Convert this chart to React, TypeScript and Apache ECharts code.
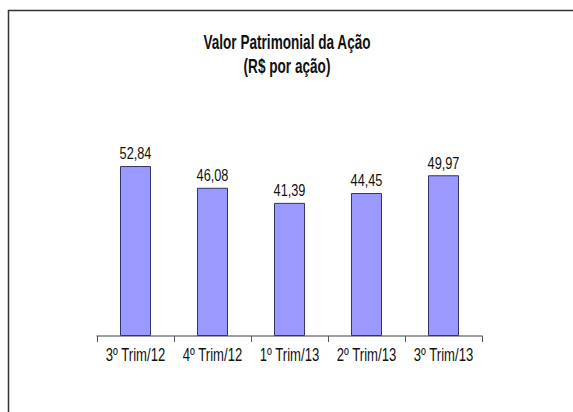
import React, { useEffect, useRef } from "react";
import * as echarts from "echarts";

const categories = ["3º Trim/12", "4º Trim/12", "1º Trim/13", "2º Trim/13", "3º Trim/13"];
const values = [52.84, 46.08, 41.39, 44.45, 49.97];
const titleLines = ["Valor Patrimonial da Ação", "(R$ por ação)"];

const FONT = "'Liberation Sans', Arial, sans-serif";
const fmt = (v: number) => v.toFixed(2).replace(".", ",");

export default function App() {
  const ref = useRef<HTMLDivElement>(null);
  useEffect(() => {
    if (!ref.current) return;
    const chart = echarts.init(ref.current, undefined, { renderer: "svg" });
    const titleText = (text: string, y: number) => ({
      type: "text",
      x: 287,
      y,
      scaleX: 0.68,
      style: {
        text,
        fontFamily: FONT,
        fontSize: 20,
        fontWeight: "bold",
        fill: "#111111",
        textAlign: "center",
        textVerticalAlign: "middle",
      },
    });
    chart.setOption({
      animation: false,
      backgroundColor: "#ffffff",
      graphic: [
        { type: "line", shape: { x1: 8, y1: 10.5, x2: 573, y2: 10.5 }, style: { stroke: "#333333", lineWidth: 1.5 } },
        { type: "line", shape: { x1: 8.5, y1: 10, x2: 8.5, y2: 412 }, style: { stroke: "#333333", lineWidth: 1.5 } },
        titleText(titleLines[0], 43),
        titleText(titleLines[1], 67),
      ],
      grid: { left: 97, right: 91, top: 143, bottom: 76 },
      xAxis: {
        type: "category",
        data: categories,
        axisLine: { show: true, lineStyle: { color: "#808080", width: 1.5 } },
        axisTick: { show: true, alignWithLabel: false, length: 6, lineStyle: { color: "#555555" } },
        axisLabel: { show: false },
      },
      yAxis: {
        type: "value",
        min: 0,
        max: 60,
        show: false,
        splitLine: { show: false },
      },
      series: [
        {
          type: "bar",
          data: values,
          barWidth: 31,
          itemStyle: { color: "#9999ff", borderColor: "#333366", borderWidth: 1 },
        },
        {
          type: "custom",
          data: values.map((v, i) => [i, v]),
          z: 5,
          renderItem: (params: any, api: any) => {
            const i = api.value(0);
            const v = api.value(1);
            const top = api.coord([i, v]);
            const base = api.coord([i, 0]);
            return {
              type: "group",
              children: [
                {
                  type: "text",
                  x: top[0],
                  y: top[1] - 4.5,
                  scaleX: 0.75,
                  style: {
                    text: fmt(v),
                    fontFamily: FONT,
                    fontSize: 17,
                    fill: "#111111",
                    textAlign: "center",
                    textVerticalAlign: "bottom",
                  },
                },
                {
                  type: "text",
                  x: base[0],
                  y: base[1] + 9,
                  scaleX: 0.69,
                  style: {
                    text: categories[i],
                    fontFamily: FONT,
                    fontSize: 19,
                    fill: "#111111",
                    textAlign: "center",
                    textVerticalAlign: "top",
                  },
                },
              ],
            };
          },
        },
      ],
    });
    return () => chart.dispose();
  }, []);
  return <div ref={ref} style={{ width: 573, height: 412, position: "absolute", left: 0, top: 0 }} />;
}
